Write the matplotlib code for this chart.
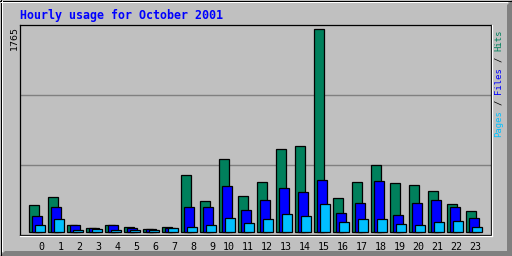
import matplotlib
matplotlib.use("Agg")
import matplotlib.pyplot as plt
from matplotlib.patches import Polygon
from matplotlib.lines import Line2D

hours = list(range(24))
hits = [235, 304, 61, 35, 61, 43, 26, 43, 495, 269, 634, 313,
        434, 721, 747, 1765, 295, 434, 582, 425, 408, 356, 243, 182]
files = [139, 217, 61, 33, 61, 33, 26, 35, 217, 217, 400, 191,
         278, 382, 347, 452, 165, 252, 443, 148, 252, 278, 217, 122]
pages = [64, 113, 20, 26, 20, 17, 17, 35, 43, 61, 122, 78,
         113, 156, 139, 243, 87, 113, 113, 69, 61, 87, 96, 43]
title = "Hourly usage for October 2001"
max_label = "1765"

C_HITS = "#00805C"
C_FILES = "#0000FF"
C_PAGES = "#00C0FF"
BG = "#C0C0C0"

W, H = 512, 256
fig = plt.figure(figsize=(W / 100, H / 100), dpi=100)
fig.patch.set_facecolor(BG)

def fx(px):
    return px / W

def fy(py):
    return 1 - py / H

# outer bevel
fig.patches.append(Polygon([(fx(512), fy(0)), (fx(512), fy(256)), (fx(0), fy(256)),
                            (fx(5), fy(251)), (fx(507), fy(251)), (fx(507), fy(5))],
                           closed=True, facecolor="#808080", edgecolor="none",
                           transform=fig.transFigure))
for (x0, y0, x1, y1, c) in [(0, 0.5, 512, 0.5, "black"), (0.5, 0, 0.5, 256, "black"),
                             (1, 1.5, 507, 1.5, "white"), (1.5, 1, 1.5, 251, "white"),
                             (0, 255.5, 512, 255.5, "black"), (511.5, 0, 511.5, 256, "black")]:
    fig.lines.append(Line2D([fx(x0), fx(x1)], [fy(y0), fy(y1)], color=c, lw=0.72,
                            transform=fig.transFigure))

# plot area
L, T, R, B = 20, 25, 491, 235
ax = fig.add_axes([fx(L), fy(B), fx(R - L), (B - T) / H])
ax.set_facecolor(BG)
unit = 19.0  # px per hour group
ax.set_xlim(-9.3 / unit, (R - L - 9.3) / unit)
vpp = 1765 / 202.7
ax.set_ylim(-3 * vpp, (232 - 25) * vpp)
for f in (1 / 3, 2 / 3):
    ax.plot([0, 1], [f, f], color="#808080", lw=1.0, transform=ax.transAxes, zorder=0)

bw = 10 / unit
off = 3 / unit
ax.bar([h for h in hours], hits, width=bw, align="edge", color=C_HITS,
       edgecolor="black", linewidth=0.9, zorder=2)
ax.bar([h + off for h in hours], files, width=bw, align="edge", color=C_FILES,
       edgecolor="black", linewidth=0.9, zorder=3)
ax.bar([h + 2 * off for h in hours], pages, width=bw, align="edge", color=C_PAGES,
       edgecolor="black", linewidth=0.9, zorder=4)

for s in ax.spines.values():
    s.set_color("black")
    s.set_linewidth(0.9)
ax.set_xticks([])
ax.set_yticks([])

# white bevel on bottom and right of plot frame
fig.lines.append(Line2D([fx(L), fx(R + 1)], [fy(B + 0.8), fy(B + 0.8)], color="white", lw=0.9,
                        transform=fig.transFigure))
fig.lines.append(Line2D([fx(R + 0.8), fx(R + 0.8)], [fy(T), fy(B + 1)], color="white", lw=0.9,
                        transform=fig.transFigure))

# hour labels
for h in hours:
    ax.text(h + 15.3 / unit, -3 * vpp - 6.5 * vpp, str(h), ha="right", va="top",
            fontsize=7.2, family="DejaVu Sans Mono", color="black")

# title
fig.text(fx(19.5), fy(19), title, ha="left", va="baseline", color="#0000FF",
         fontsize=8.4, family="DejaVu Sans Mono", fontweight="bold")

# max label
fig.text(fx(14.5), fy(26.5), max_label, rotation=90, ha="center", va="top",
         fontsize=6.8, family="DejaVu Sans", color="black")

# legend on right side
pieces = [("Pages", 0, C_PAGES), ("/", 6, "black"), ("Files", 8, C_FILES),
          ("/", 14, "black"), ("Hits", 16, C_HITS)]
cw = 5.35
for txt, idx, col in pieces:
    fig.text(fx(498.5), fy(137 - idx * cw), txt, rotation=90, rotation_mode="anchor",
             ha="left", va="center", fontsize=6.4, family="DejaVu Sans Mono", color=col)

fig.savefig("out.png", dpi=100, facecolor=BG)
